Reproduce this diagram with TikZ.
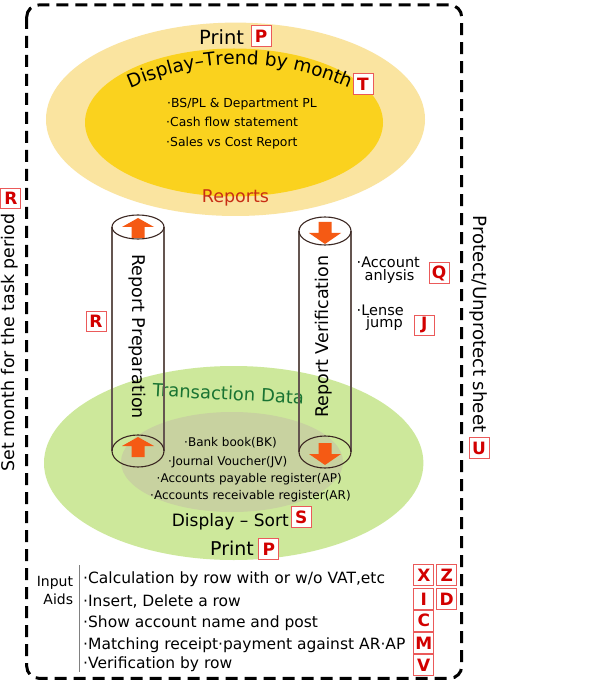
\documentclass[tikz,border=0pt]{standalone}
\usepackage{fontspec}
\setmainfont{DejaVu Sans}
\usetikzlibrary{decorations.text}
\definecolor{outery}{RGB}{250,228,160}
\definecolor{innery}{RGB}{250,210,30}
\definecolor{greenl}{RGB}{205,232,155}
\definecolor{olive}{RGB}{200,210,160}
\definecolor{arrowc}{RGB}{245,90,20}
\definecolor{keyred}{RGB}{210,0,0}
\definecolor{keyborder}{RGB}{235,90,90}
\definecolor{cylc}{RGB}{100,85,80}
\definecolor{rimc}{RGB}{60,40,35}
\definecolor{transg}{RGB}{25,115,50}
\definecolor{reportsc}{RGB}{200,45,20}
\begin{document}
\begin{tikzpicture}[x=1pt,y=-1pt,
  fs/.style={font=\fontsize{#1}{#1}\selectfont},
  keybox/.style={draw=keyborder, line width=1pt, fill=white, text=keyred,
    font=\fontsize{17}{17}\selectfont\bfseries, minimum width=20pt,
    minimum height=20.5pt, inner sep=0pt},
  txt/.style={inner sep=0pt, anchor=base west},
  cyl/.style={draw=cylc, line width=1.2pt},
  rim/.style={draw=rimc, line width=1.1pt},
  frame/.style={line width=3pt, dash pattern=on 12pt off 7pt, rounded corners=12pt},
  uparr/.pic={\fill[arrowc] (0,0) -- (16,9) -- (6.5,9) -- (6.5,20) -- (-6.5,20) -- (-6.5,9) -- (-16,9) -- cycle;},
  downarr/.pic={\fill[arrowc] (0,0) -- (16,-11) -- (6.5,-11) -- (6.5,-22) -- (-6.5,-22) -- (-6.5,-11) -- (-16,-11) -- cycle;}
]
\useasboundingbox (0,0) rectangle (601,684);
\fill[white] (0,0) rectangle (601,684);

% frame
\draw[frame] (26.7,5) rectangle (461.7,678.3);

% reports ellipses
\fill[outery] (235.5,119.3) ellipse [x radius=189.5, y radius=96.7];
\fill[innery] (234,122.5) ellipse [x radius=149, y radius=74];

% transaction ellipses
\fill[greenl] (233.7,463) ellipse [x radius=189.7, y radius=97];
\fill[olive] (232,462) ellipse [x radius=111, y radius=50];

% top texts
\node[txt, fs=19.5] (print1) at (199,44.3) {Print};
\node[keybox] (kp1) at (261.2,36.2) {P};
\path[decorate, decoration={text along path, text align=center,
  text={|\fontsize{18.5}{18.5}\selectfont|Display–Trend by month}}]
  (120,93) .. controls (200,55) and (280,55) .. (360,93);
\node[keybox] (kt) at (363,84.2) {T};
\node[txt, fs=12.4] (b1) at (167,107.3) {·BS/PL \& Department PL};
\node[txt, fs=12.4] (b2) at (166,126.7) {·Cash flow statement};
\node[txt, fs=12.4] (b3) at (166,146.7) {·Sales vs Cost Report};
\node[inner sep=0pt, anchor=base, fs=17.5, text=reportsc] (reports) at (235.5,202.7) {Reports};

% transaction texts
\node[inner sep=0pt, anchor=base, fs=18, text=transg, rotate=-3] (trans) at (228,400) {Transaction Data};
\node[txt, fs=12] (t1) at (184,446) {·Bank book(BK)};
\node[txt, fs=12] (t2) at (168,465) {·Journal Voucher(JV)};
\node[txt, fs=12] (t3) at (156.5,482) {·Accounts payable register(AP)};
\node[txt, fs=12] (t4) at (150,499.5) {·Accounts receivable register(AR)};
\node[txt, fs=17] (sort) at (171.7,526.7) {Display – Sort};
\node[keybox] (ks) at (301.3,517) {S};
\node[txt, fs=19] (print2) at (210,555.7) {Print};
\node[keybox] (kp2) at (268.8,549.2) {P};

% cylinders
\draw[cyl] (112,227) -- (112,451);
\draw[cyl] (164,227) -- (164,451);
\draw[rim] (138,227) ellipse [x radius=26, y radius=12];
\draw[rim] (138,451) ellipse [x radius=26, y radius=16];
\draw[cyl] (299,231) -- (299,452);
\draw[cyl] (351,231) -- (351,452);
\draw[rim] (325,231) ellipse [x radius=26, y radius=14];
\draw[rim] (325,452) ellipse [x radius=26, y radius=16];
\pic at (138,218) {uparr};
\pic at (138,437) {uparr};
\pic at (325,244) {downarr};
\pic at (325,465) {downarr};
\node[inner sep=0pt, fs=17.5, rotate=-90] (prep) at (137,336.7) {Report Preparation};
\node[inner sep=0pt, fs=17.5, rotate=90] (verif) at (323.5,336.7) {Report Verification};

% side items
\node[keybox] (kr2) at (96,321.5) {R};
\node[txt, fs=14.5] (acc1) at (356.5,267.3) {·Account};
\node[txt, fs=14.5] (acc2) at (364.5,280) {anlysis};
\node[keybox] (kq) at (439.2,273) {Q};
\node[txt, fs=14.5] (len1) at (356.5,315) {·Lense};
\node[txt, fs=14.5] (len2) at (366,327.3) {jump};
\node[keybox] (kj) at (424.2,325.3) {J};

\node[inner sep=0pt, fs=18.2, rotate=-90] (protect) at (479,324) {Protect/Unprotect sheet};
\node[keybox] (ku) at (479,448) {U};
\node[inner sep=0pt, fs=17.4, rotate=90] (setm) at (10,342.5) {Set month for the task period};
\node[keybox] (kr1) at (10.8,198.3) {R};

% input aids
\node[inner sep=0pt, anchor=base east, fs=14] (inp) at (73.3,586) {Input};
\node[inner sep=0pt, anchor=base east, fs=14] (aids) at (73.3,604) {Aids};
\draw[gray, line width=1.5pt] (79.3,565) -- (79.3,672);
\node[txt, fs=15.5] (i1) at (83,583.3) {·Calculation by row with or w/o VAT,etc};
\node[txt, fs=15.5] (i2) at (83,606) {·Insert, Delete a row};
\node[txt, fs=15.5] (i3) at (83,627.3) {·Show account name and post};
\node[txt, fs=15.5] (i4) at (83,649.3) {·Matching receipt·payment against AR·AP};
\node[txt, fs=15.5] (i5) at (83,668.3) {·Verification by row};
\node[keybox] (kx) at (423.8,575) {X};
\node[keybox] (kz) at (446.7,575) {Z};
\node[keybox] (ki) at (423.8,598.8) {I};
\node[keybox] (kd) at (446.7,598.8) {D};
\node[keybox] (kc) at (423.8,620.8) {C};
\node[keybox] (km) at (423.8,643) {M};
\node[keybox] (kv) at (423.8,665) {V};
\end{tikzpicture}
\end{document}
